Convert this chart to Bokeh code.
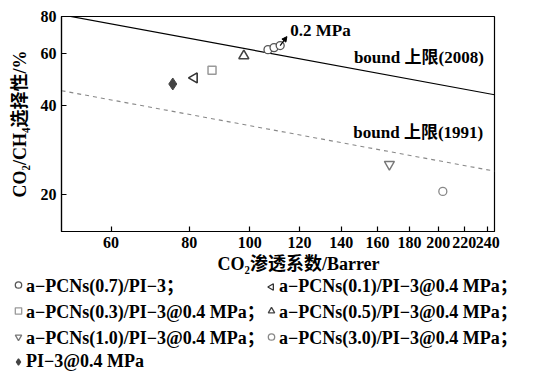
from bokeh.plotting import figure
from bokeh.models import Range1d, FixedTicker, PrintfTickFormatter, Legend, LegendItem, Label, Arrow, NormalHead, Title
from bokeh.embed import file_html
from bokeh.resources import INLINE

# ---- data ----
x_ticks = [60, 80, 100, 120, 140, 160, 180, 200, 220, 240]
y_ticks = [20, 40, 60, 80]

bound2008_x = [50, 246]
bound2008_y = [81.1, 43.5]
bound1991_x = [50, 246]
bound1991_y = [44.9, 24.0]

pcn07_x = [106.9, 109.3, 111.8]
pcn07_y = [61.8, 62.8, 63.8]
pcn01_x = [81.5]
pcn01_y = [49.6]
pcn03_x = [87.0]
pcn03_y = [52.6]
pcn05_x = [97.8]
pcn05_y = [58.9]
pcn10_x = [167.1]
pcn10_y = [25.3]
pcn30_x = [203.4]
pcn30_y = [20.5]
pi3_x = [75.3]
pi3_y = [47.3]

labels = [
    "a−PCNs(0.7)/PI−3；",
    "a−PCNs(0.1)/PI−3@0.4 MPa；",
    "a−PCNs(0.3)/PI−3@0.4 MPa；",
    "a−PCNs(0.5)/PI−3@0.4 MPa；",
    "a−PCNs(1.0)/PI−3@0.4 MPa；",
    "a−PCNs(3.0)/PI−3@0.4 MPa；",
    "PI−3@0.4 MPa",
]

x_title = "CO₂渗透系数/Barrer"
y_title = "CO₂/CH₄选择性/%"
note_text = "0.2 MPa"
note_x, note_y = 116, 71.7
arrow_tip_x, arrow_tip_y = 114.6, 68.4
b2008_text, b2008_x, b2008_y = "bound 上限(2008)", 236.5, 58.1
b1991_text, b1991_x, b1991_y = "bound 上限(1991)", 236.0, 32.4

FONT = "Liberation Serif, Noto Sans CJK SC"

styles = [
    dict(marker="circle", size=8, fill_color="white", line_color="#555555", line_width=1.3),
    dict(marker="triangle", angle=1.5708, size=10, fill_color="white", line_color="#333333", line_width=1.6),
    dict(marker="square", size=8, fill_color="white", line_color="#999999", line_width=1.5),
    dict(marker="triangle", size=10, fill_color="white", line_color="#444444", line_width=1.6),
    dict(marker="inverted_triangle", size=10, fill_color="white", line_color="#777777", line_width=1.4),
    dict(marker="circle", size=8, fill_color="white", line_color="#888888", line_width=1.3),
    dict(marker="diamond", size=12, fill_color="#444444", line_color="#444444"),
]
series = [(pcn07_x, pcn07_y), (pcn01_x, pcn01_y), (pcn03_x, pcn03_y), (pcn05_x, pcn05_y),
          (pcn10_x, pcn10_y), (pcn30_x, pcn30_y), (pi3_x, pi3_y)]

p = figure(x_axis_type="log", y_axis_type="log",
           x_range=Range1d(50, 246), y_range=Range1d(15, 80),
           frame_width=433, frame_height=215,
           min_border_left=61, min_border_right=30, min_border_top=16, min_border_bottom=44,
           output_backend="svg", toolbar_location=None)

p.xgrid.visible = False
p.ygrid.visible = False
p.outline_line_color = "black"
p.outline_line_width = 1.2
p.background_fill_color = "white"
p.border_fill_color = "white"

for ax in (p.xaxis[0], p.yaxis[0]):
    ax.major_tick_in = 5
    ax.major_tick_out = 0
    ax.minor_tick_in = 0
    ax.minor_tick_out = 0
    ax.axis_line_width = 1.2
    ax.major_tick_line_width = 1.2
    ax.major_label_text_font = FONT
    ax.major_label_text_font_style = "bold"
    ax.major_label_text_font_size = "16px"
    ax.major_label_text_color = "black"
    ax.axis_label_text_font = FONT
    ax.axis_label_text_font_style = "bold"
    ax.axis_label_text_font_size = "18px"
    ax.axis_label_text_color = "black"
    ax.formatter = PrintfTickFormatter(format="%d")
    ax.major_label_standoff = 5

p.xaxis.ticker = FixedTicker(ticks=x_ticks)
p.yaxis.ticker = FixedTicker(ticks=y_ticks)
p.yaxis.axis_label = y_title
p.yaxis.axis_label_standoff = 8
p.add_layout(Title(text=x_title, align="left", offset=156, standoff=2,
                   text_font=FONT, text_font_style="bold", text_font_size="18px",
                   text_color="black"), "below")

p.line(bound2008_x, bound2008_y, line_color="black", line_width=1.2)
p.line(bound1991_x, bound1991_y, line_color="#888888", line_width=1.1, line_dash="4 4")

for (sx, sy), st in zip(series, styles):
    p.scatter(sx, sy, **st)

p.add_layout(Arrow(x_start=pcn07_x[-1], y_start=pcn07_y[-1], x_end=arrow_tip_x, y_end=arrow_tip_y,
                   line_color="black", line_width=1.2,
                   end=NormalHead(size=5, fill_color="black", line_color="black")))

for t, x, y, align in [(note_text, note_x, note_y, "left"),
                       (b2008_text, b2008_x, b2008_y, "right"),
                       (b1991_text, b1991_x, b1991_y, "right")]:
    p.add_layout(Label(x=x, y=y, text=t, text_align=align, text_baseline="middle",
                       text_font=FONT, text_font_style="bold", text_font_size="17px",
                       text_color="black"))

# ---- legend in its own panel below the chart ----
# the panel's ranges are in pixels (y measured downward as negative), so the
# series values (all positive y) stay out of its view
LEG_W, LEG_H = 536, 110
lf = figure(width=LEG_W, height=LEG_H, x_range=Range1d(0, LEG_W), y_range=Range1d(-LEG_H, 0),
            x_axis_location=None, y_axis_location=None,
            min_border=0, output_backend="svg", toolbar_location=None)
lf.outline_line_color = None
lf.xgrid.visible = False
lf.ygrid.visible = False

leg_styles = [dict(st, line_width=1.3) for st in styles]
# Bokeh legends ignore marker angle: hide the auto key of the left-pointing triangle
leg_styles[1] = dict(leg_styles[1], line_alpha=0, fill_alpha=0)
leg_rs = [lf.scatter(sx, sy, **st) for (sx, sy), st in zip(series, leg_styles)]
items = [LegendItem(label=l, renderers=[r]) for l, r in zip(labels, leg_rs)]

GLYPH_W, ROW_H = 16, 25
COL1_X, COL2_X = 10, 263
TOP = -1   # top of the legend block, px from panel top
leg_kw = dict(orientation="vertical",
              label_text_font=FONT, label_text_font_style="bold", label_text_font_size="18px",
              label_text_color="black",
              glyph_width=GLYPH_W, glyph_height=ROW_H, label_height=ROW_H, label_standoff=0,
              spacing=0, padding=0, margin=0,
              border_line_color=None, background_fill_alpha=0)
left_items = [items[i] for i in (0, 2, 4, 6)]
right_items = [items[i] for i in (1, 3, 5)]
lf.add_layout(Legend(items=left_items, location=(COL1_X, LEG_H - TOP - ROW_H * len(left_items)), **leg_kw), "center")
lf.add_layout(Legend(items=right_items, location=(COL2_X, LEG_H - TOP - ROW_H * len(right_items)), **leg_kw), "center")

# left-pointing key for the a-PCNs(0.1) entry (first row of the right column)
key_st = dict(styles[1], size=6.4, line_width=1.3)
lf.scatter([COL2_X + GLYPH_W / 2], [-(TOP + ROW_H / 2)], **key_st)

open("out.html", "w").write(file_html([p, lf], INLINE))
